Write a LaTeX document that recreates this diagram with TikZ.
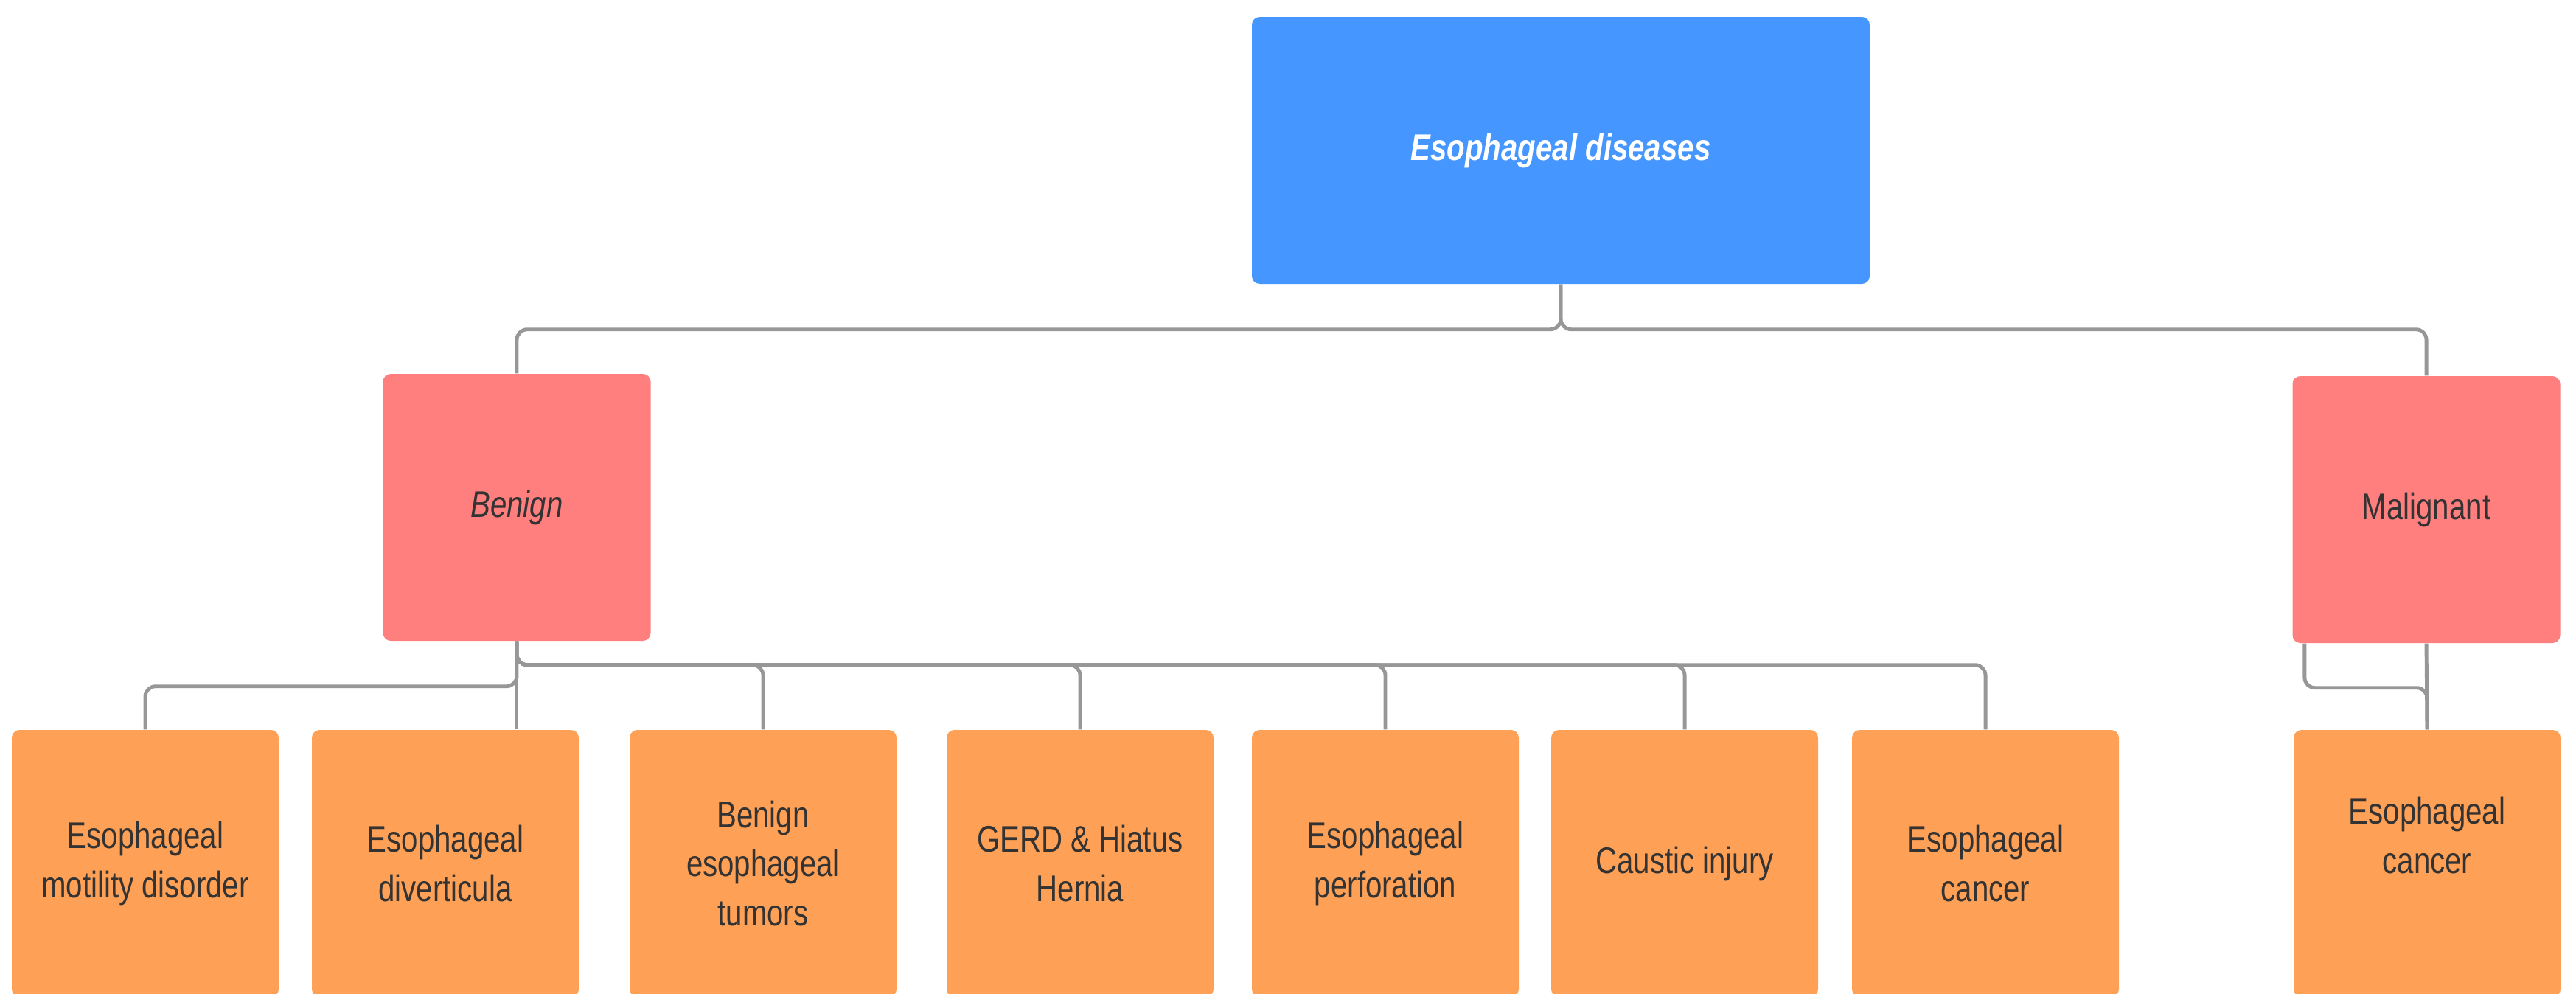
\documentclass[tikz,border=0pt]{standalone}
\usepackage{fontspec}
\setmainfont{Liberation Sans}[FakeStretch=0.8]
\definecolor{topblue}{HTML}{4596FE}
\definecolor{grpred}{HTML}{FF7F7F}
\definecolor{leaforange}{HTML}{FEA055}
\definecolor{linkgray}{HTML}{979797}
\definecolor{txtgray}{HTML}{333333}

\begin{document}
\begin{tikzpicture}[
    base/.style={rounded corners=3pt, align=center, inner sep=2pt,
                 font=\fontsize{14.3}{19}\selectfont, text=txtgray},
    topbox/.style={base, fill=topblue, minimum width=8.38cm,
                   minimum height=3.62cm, text=white},
    grpbox/.style={base, fill=grpred, minimum width=3.63cm, minimum height=3.62cm},
    leafbox/.style={base, fill=leaforange, minimum width=3.62cm,
                    minimum height=3.62cm},
    link/.style={draw=linkgray, line width=1.4pt, rounded corners=4pt}
  ]
  \useasboundingbox (0,0) rectangle (34.94,-13.47);

  \node[topbox] (dis) at (21.17,-2.04) {\bfseries\itshape Esophageal diseases};
  \node[grpbox] (ben) at (7.01,-6.88)  {\itshape Benign};
  \node[grpbox] (mal) at (32.91,-6.91) {Malignant};

  \node[leafbox] (c1) at (1.97,-11.71)  {Esophageal\\motility disorder};
  \node[leafbox] (c2) at (6.04,-11.71)  {Esophageal\\diverticula};
  \node[leafbox] (c3) at (10.35,-11.71) {Benign\\esophageal\\tumors};
  \node[leafbox] (c4) at (14.65,-11.71) {GERD \& Hiatus\\Hernia};
  \node[leafbox] (c5) at (18.79,-11.71) {Esophageal\\perforation};
  \node[leafbox] (c6) at (22.85,-11.71) {Caustic injury};
  \node[leafbox] (c7) at (26.93,-11.71) {Esophageal\\cancer};
  \node[leafbox, text depth=0.76cm] (c8) at (32.92,-11.71) {Esophageal\\cancer};

  \draw[link] (dis.south) -- ++(0,-0.61) -| (ben.north);
  \draw[link] (dis.south) -- ++(0,-0.61) -| (mal.north);

  \draw[link] (ben.south) -- ++(0,-0.61) -| (c1.north);
  \draw[link] (ben.south) -- (ben.south |- c2.north);
  \foreach \c in {c3,c4,c5,c6,c7}
    \draw[link] (ben.south) -- ++(0,-0.32) -| (\c.north);

  \draw[link] (mal.south) -- (c8.north);
  \draw[link] ([xshift=1.7mm]mal.south west) -- ++(0,-0.6) -| (c8.north);
\end{tikzpicture}
\end{document}
